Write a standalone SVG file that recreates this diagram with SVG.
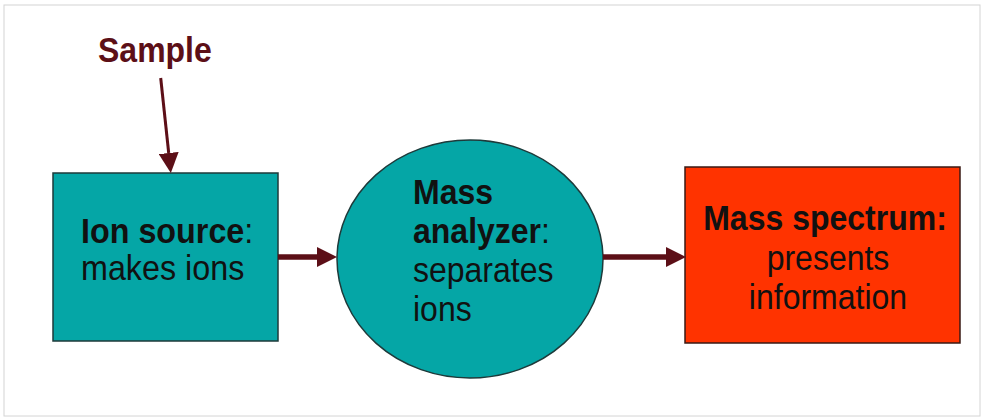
<svg xmlns="http://www.w3.org/2000/svg" width="981" height="417" viewBox="0 0 981 417">
  <style>
    .lbl { font-family: "Liberation Sans", Arial, sans-serif; font-size: 32px; fill: #111111; }
    .b { font-weight: bold; }
    .node-teal { fill: #05a6a6; stroke: #1e3a3a; stroke-width: 1.5; }
    .node-red { fill: #ff3300; stroke: #3a1a14; stroke-width: 1.5; }
    .conn { stroke: #5c0f17; fill: none; }
    .sample { font-family: "Liberation Sans", Arial, sans-serif; font-size: 32px; font-weight: bold; fill: #5c0f17; }
  </style>
  <defs>
    <marker id="head" markerUnits="userSpaceOnUse" markerWidth="20" markerHeight="20" viewBox="0 0 19 19" refX="0" refY="9.5" orient="auto">
      <path d="M0,0 L19,9.5 L0,19 Z" fill="#5c0f17"/>
    </marker>
  </defs>

  <!-- page frame -->
  <rect x="4" y="5" width="976" height="411" fill="#ffffff" stroke="#d4d4d4" stroke-width="1"/>

  <!-- input label -->
  <g id="sample">
    <text class="sample" transform="translate(98,62) scale(1,1.08)">Sample</text>
  </g>

  <!-- ion source -->
  <g id="ion-source">
    <rect class="node-teal" x="53" y="173" width="225" height="168"/>
    <text class="lbl" transform="translate(81,243) scale(1.01,1.08)"><tspan class="b">Ion source</tspan>:</text>
    <text class="lbl" transform="translate(81,280) scale(1.01,1.08)">makes ions</text>
  </g>

  <!-- mass analyzer -->
  <g id="mass-analyzer">
    <ellipse class="node-teal" cx="470" cy="259" rx="133" ry="119"/>
    <text class="lbl b" transform="translate(413,204) scale(1,1.08)">Mass</text>
    <text class="lbl" transform="translate(413,243) scale(1,1.08)"><tspan class="b">analyzer</tspan>:</text>
    <text class="lbl" transform="translate(413,282) scale(1,1.08)">separates</text>
    <text class="lbl" transform="translate(413,321) scale(1,1.08)">ions</text>
  </g>

  <!-- mass spectrum -->
  <g id="mass-spectrum">
    <rect class="node-red" x="685" y="167" width="275" height="176"/>
    <text class="lbl b" text-anchor="middle" transform="translate(825,230) scale(1,1.08)">Mass spectrum:</text>
    <text class="lbl" text-anchor="middle" transform="translate(828,270) scale(1,1.08)">presents</text>
    <text class="lbl" text-anchor="middle" transform="translate(828,309) scale(1,1.08)">information</text>
  </g>

  <!-- connectors -->
  <g id="connectors">
    <line class="conn" x1="160.7" y1="78" x2="168.7" y2="153" stroke-width="3" marker-end="url(#head)"/>
    <line class="conn" x1="278" y1="257" x2="317" y2="257" stroke-width="5.5" marker-end="url(#head)"/>
    <line class="conn" x1="603" y1="257" x2="666" y2="257" stroke-width="5.5" marker-end="url(#head)"/>
  </g>
</svg>
